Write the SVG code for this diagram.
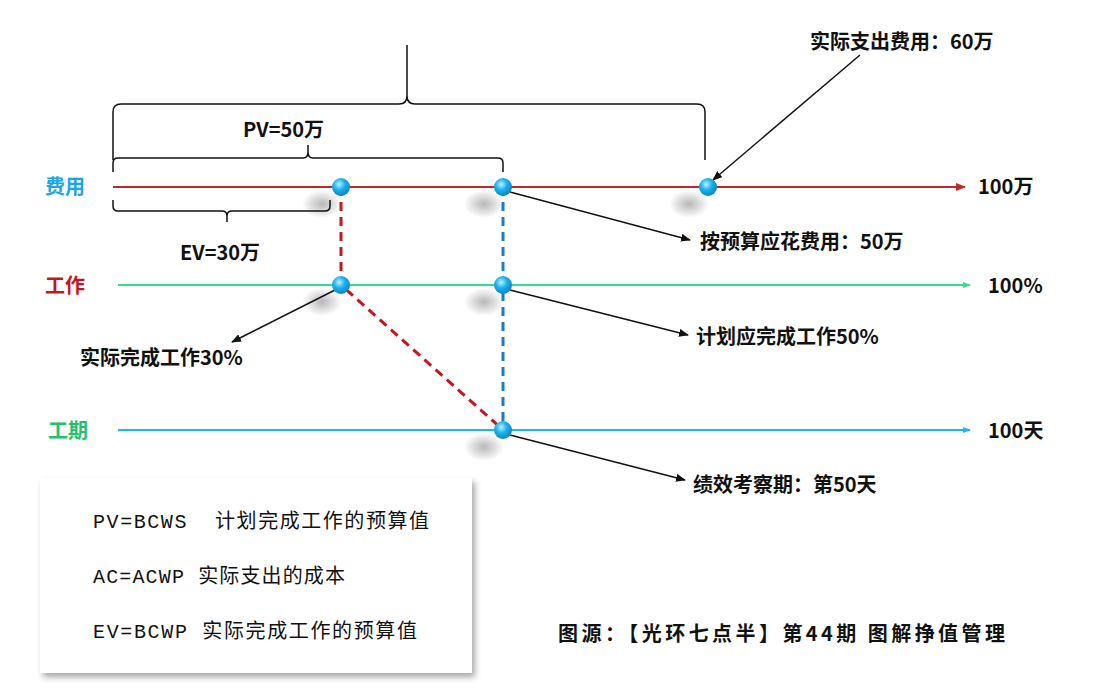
<svg xmlns="http://www.w3.org/2000/svg" width="1115" height="694" viewBox="0 0 1115 694">
<defs>
<marker id="ah" markerWidth="10" markerHeight="8" refX="9" refY="4" orient="auto" markerUnits="userSpaceOnUse"><path d="M0,0 L10,4 L0,8 Z" fill="#111"/></marker>
<marker id="ar" markerWidth="10" markerHeight="8" refX="9" refY="4" orient="auto" markerUnits="userSpaceOnUse"><path d="M0,0 L10,4 L0,8 Z" fill="#c0282a"/></marker>
<marker id="ag" markerWidth="8" markerHeight="6" refX="7" refY="3" orient="auto" markerUnits="userSpaceOnUse"><path d="M0,0 L8,3 L0,6 Z" fill="#2ee08a"/></marker>
<marker id="ac" markerWidth="8" markerHeight="6" refX="7" refY="3" orient="auto" markerUnits="userSpaceOnUse"><path d="M0,0 L8,3 L0,6 Z" fill="#1fb5ea"/></marker>
<radialGradient id="dot" cx="0.4" cy="0.35" r="0.7"><stop offset="0" stop-color="#bff0ff"/><stop offset="0.45" stop-color="#1ab2ee"/><stop offset="1" stop-color="#0a7fc0"/></radialGradient>
<radialGradient id="sh"><stop offset="0" stop-color="#999" stop-opacity="0.7"/><stop offset="1" stop-color="#999" stop-opacity="0"/></radialGradient>
<filter id="bs" x="-10%" y="-10%" width="130%" height="130%"><feDropShadow dx="3" dy="4" stdDeviation="3" flood-color="#000" flood-opacity="0.35"/></filter>
</defs>
<style>
.t{font-family:"Noto Sans CJK SC","Liberation Sans",sans-serif;font-size:20px;fill:#111;font-weight:bold}
.m{font-family:"Liberation Mono","Noto Sans CJK SC",monospace;font-size:20px;fill:#111}
.br{fill:none;stroke:#111;stroke-width:1.5}
.cl{stroke:#111;stroke-width:1.5;fill:none}
</style>
<rect width="1115" height="694" fill="#fff"/>
<g id="shadows">
<ellipse cx="322" cy="204" rx="20" ry="14" fill="url(#sh)"/>
<ellipse cx="484" cy="204" rx="20" ry="14" fill="url(#sh)"/>
<ellipse cx="689" cy="204" rx="20" ry="14" fill="url(#sh)"/>
<ellipse cx="322" cy="302" rx="20" ry="14" fill="url(#sh)"/>
<ellipse cx="484" cy="302" rx="20" ry="14" fill="url(#sh)"/>
<ellipse cx="484" cy="447" rx="20" ry="14" fill="url(#sh)"/>
</g>
<g id="connectors">
<line x1="113" y1="187" x2="965" y2="187" stroke="#c0282a" stroke-width="2" marker-end="url(#ar)"/>
<line x1="118" y1="285" x2="970" y2="285" stroke="#2ee08a" stroke-width="2" marker-end="url(#ag)"/>
<line x1="118" y1="430" x2="970" y2="430" stroke="#1fb5ea" stroke-width="2" marker-end="url(#ac)"/>
<path d="M341,187 L341,285 L503,430" fill="none" stroke="#c4161c" stroke-width="3" stroke-dasharray="9,6"/>
<line x1="503" y1="187" x2="503" y2="430" stroke="#1a7ccc" stroke-width="3" stroke-dasharray="9,6"/>
<path class="br" d="M113,160 L113,112 Q113,104 121,104 L399,104 Q407,104 407,96 L407,45 M407,96 Q407,104 415,104 L697,104 Q705,104 705,112 L705,160"/>
<path class="br" d="M113,172 L113,163 Q113,158 118,158 L303,158 Q308,158 308,152 L308,145 M308,152 Q308,158 313,158 L498,158 Q503,158 503,163 L503,172"/>
<path class="br" d="M113,200 L113,206 Q113,211 118,211 L222,211 Q227,211 227,216 L227,222 M227,216 Q227,211 232,211 L325,211 Q330,211 330,206 L330,200"/>
<line class="cl" x1="860" y1="55" x2="713" y2="180" marker-end="url(#ah)"/>
<line class="cl" x1="510" y1="192" x2="690" y2="240" marker-end="url(#ah)"/>
<line class="cl" x1="510" y1="290" x2="688" y2="335" marker-end="url(#ah)"/>
<line class="cl" x1="335" y1="290" x2="232" y2="342" marker-end="url(#ah)"/>
<line class="cl" x1="510" y1="435" x2="685" y2="480" marker-end="url(#ah)"/>
</g>
<g id="dots" fill="url(#dot)">
<circle cx="341" cy="187" r="9"/><circle cx="503" cy="187" r="9"/><circle cx="708" cy="187" r="9"/>
<circle cx="341" cy="285" r="9"/><circle cx="503" cy="285" r="9"/><circle cx="503" cy="430" r="9"/>
</g>
<g id="labels">
<text class="t" x="45" y="194" style="fill:#1aa6e6">费用</text>
<text class="t" x="45" y="293" style="fill:#c4161c">工作</text>
<text class="t" x="48" y="438" style="fill:#22c070">工期</text>
<text class="t" x="978" y="194">100万</text>
<text class="t" x="988" y="293">100%</text>
<text class="t" x="988" y="438">100天</text>
<text class="t" x="243" y="137">PV=50万</text>
<text class="t" x="180" y="260">EV=30万</text>
<text class="t" x="810" y="49">实际支出费用：60万</text>
<text class="t" x="700" y="249">按预算应花费用：50万</text>
<text class="t" x="696" y="344">计划应完成工作50%</text>
<text class="t" x="80" y="365">实际完成工作30%</text>
<text class="t" x="693" y="492">绩效考察期：第50天</text>
<text class="t" x="558" y="641" textLength="447">图源：【光环七点半】第44期 图解挣值管理</text>
</g>
<g id="legend">
<rect x="40" y="478" width="432" height="195" fill="#fff" filter="url(#bs)"/>
<text class="m" x="93" y="528" xml:space="preserve" textLength="336">PV=BCWS  计划完成工作的预算值</text>
<text class="m" x="93" y="583" textLength="252">AC=ACWP 实际支出的成本</text>
<text class="m" x="93" y="638" textLength="324">EV=BCWP 实际完成工作的预算值</text>
</g>
</svg>
